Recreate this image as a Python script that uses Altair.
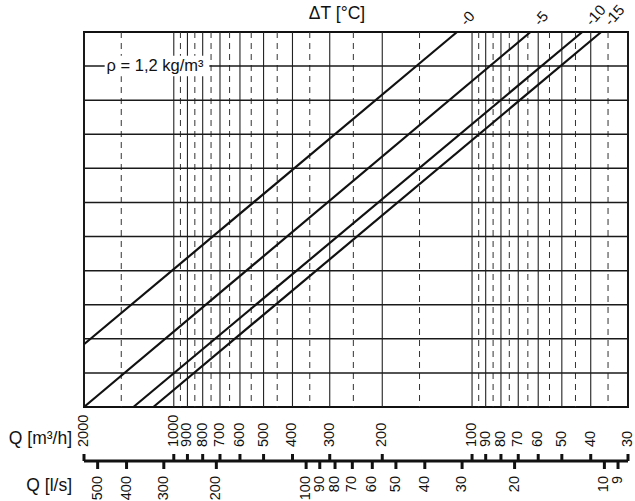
import altair as alt
import pandas as pd

FONT = "Liberation Sans"

# Flow rate grid (m³/h): solid lines at the labelled values, dashed at the halves
q_major = [2000, 1000, 900, 800, 700, 600, 500, 400, 300, 200,
           100, 90, 80, 70, 60, 50, 40, 30]
q_minor = [1500, 950, 850, 750, 650, 550, 450, 350, 250, 150,
           95, 85, 75, 65, 55, 45, 35]

# Secondary flow scale in l/s
q_ls = [500, 400, 300, 200, 100, 90, 80, 70, 60, 50, 40, 30, 20, 10, 9]

# Horizontal divisions of the chart
rows = list(range(0, 12))

# Temperature difference lines: end points (Q in m³/h, row position)
dt_names = ["-0", "-0", "-5", "-5", "-10", "-10", "-15", "-15"]
dt_q = [2000, 112.3, 2000, 63.7, 1366, 42.7, 1171, 36.9]
dt_row = [1.84, 11, 0, 11, 0, 11, 0, 11]

# Where each line leaves the top edge (label anchor)
dt_label_names = ["-0", "-5", "-10", "-15"]
dt_label_q = [112.3, 63.7, 42.7, 36.9]

# Density note placed on the row-10 grid line
rho_text = "ρ = 1,2 kg/m³"
rho_q = 1680
rho_row = 10
rho_box_q = [1705, 760]
rho_box_row = [9.7, 10.3]

W, H = 544, 375

xs = alt.Scale(type="log", domain=[30, 2000], reverse=True, nice=False, zero=False)
ys = alt.Scale(type="linear", domain=[0, 11], nice=False, zero=False)

df_major = pd.DataFrame({"q": q_major})
df_minor = pd.DataFrame({"q": q_minor})
df_rows = pd.DataFrame({"row": rows[1:-1]})
df_lines = pd.DataFrame({"dt": dt_names, "q": dt_q, "row": dt_row})
df_lbl = pd.DataFrame({"dt": dt_label_names, "q": dt_label_q})
df_ls = pd.DataFrame({"ls": q_ls})
df_m3 = pd.DataFrame({"q": q_major, "label": [str(v) for v in q_major]})
df_box = pd.DataFrame({"q": [rho_box_q[0]], "q2": [rho_box_q[1]],
                       "r": [rho_box_row[0]], "r2": [rho_box_row[1]]})
df_rho = pd.DataFrame({"q": [rho_q], "row": [rho_row], "t": [rho_text]})
df_axis = pd.DataFrame({"q": [2000], "q2": [30]})

hgrid = alt.Chart(df_rows).mark_rule(color="#1a1a1a", strokeWidth=1.5).encode(
    y=alt.Y("row:Q", scale=ys, axis=None)
)

vsolid = alt.Chart(df_major).mark_rule(color="#222222", strokeWidth=1.1).encode(
    x=alt.X("q:Q", scale=xs, axis=None)
)

vdash = alt.Chart(df_minor).mark_rule(color="#333333", strokeWidth=1, strokeDash=[6, 5]).encode(
    x=alt.X("q:Q", scale=xs, axis=None)
)

box = alt.Chart(df_box).mark_rect(color="white").encode(
    x=alt.X("q:Q", scale=xs, axis=None), x2="q2:Q",
    y=alt.Y("r:Q", scale=ys, axis=None), y2="r2:Q"
)

rho = alt.Chart(df_rho).mark_text(
    align="left", baseline="middle", font=FONT, fontSize=16.5, color="#111"
).encode(
    x=alt.X("q:Q", scale=xs, axis=None),
    y=alt.Y("row:Q", scale=ys, axis=None),
    text="t:N"
)

lines = alt.Chart(df_lines).mark_line(color="#111111", strokeWidth=2.2).encode(
    x=alt.X("q:Q", scale=xs, axis=None),
    y=alt.Y("row:Q", scale=ys, axis=None),
    detail="dt:N"
)

dt_labels = alt.Chart(df_lbl).mark_text(
    align="left", baseline="middle", angle=312, font=FONT, fontSize=15,
    color="#111", dx=9
).encode(
    x=alt.X("q:Q", scale=xs, axis=None),
    y=alt.value(-2),
    text="dt:N"
)

dt_title = alt.Chart(pd.DataFrame({"t": ["ΔT [°C]"]})).mark_text(
    align="center", baseline="middle", font=FONT, fontSize=17.5, color="#111"
).encode(x=alt.value(253), y=alt.value(-18), text="t:N")

# Bottom double scale
axis_line = alt.Chart(df_axis).mark_rule(color="#111", strokeWidth=3).encode(
    x=alt.X("q:Q", scale=xs, axis=None), x2="q2:Q", y=alt.value(429)
)

ticks_up = alt.Chart(df_major).mark_rule(color="#111", strokeWidth=3).encode(
    x=alt.X("q:Q", scale=xs, axis=None), y=alt.value(422), y2=alt.value(429)
)

ticks_down = alt.Chart(df_ls).transform_calculate(q="datum.ls * 3.6").mark_rule(
    color="#111", strokeWidth=3
).encode(
    x=alt.X("q:Q", scale=xs, axis=None), y=alt.value(429), y2=alt.value(437)
)

m3_labels = alt.Chart(df_m3).mark_text(
    align="left", baseline="middle", angle=270, font=FONT, fontSize=14.5, color="#111"
).encode(
    x=alt.X("q:Q", scale=xs, axis=None), y=alt.value(415), text="label:N"
)

ls_labels = alt.Chart(df_ls).transform_calculate(
    q="datum.ls * 3.6", label="'' + datum.ls"
).mark_text(
    align="right", baseline="middle", angle=270, font=FONT, fontSize=14.5, color="#111"
).encode(
    x=alt.X("q:Q", scale=xs, axis=None), y=alt.value(444), text="label:N"
)

ax_titles = alt.Chart(pd.DataFrame({
    "t": ["Q [m³/h]", "Q [l/s]"], "yy": [407, 454]
})).mark_text(
    align="right", baseline="middle", font=FONT, fontSize=17.5, color="#111"
).encode(
    x=alt.value(-12),
    y=alt.Y("yy:Q", scale=None, axis=None),
    text="t:N"
)

chart = alt.layer(
    vdash, vsolid, hgrid, box, rho, lines, dt_labels, dt_title,
    axis_line, ticks_up, ticks_down, m3_labels, ls_labels, ax_titles
).properties(
    width=W, height=H,
    autosize=alt.AutoSizeParams(type="none"),
    padding={"left": 84, "top": 32, "right": 7, "bottom": 94},
    background="white"
).configure_view(stroke="#111", strokeWidth=2)

chart.save("out.html", embed_options={"renderer": "svg", "actions": False})
